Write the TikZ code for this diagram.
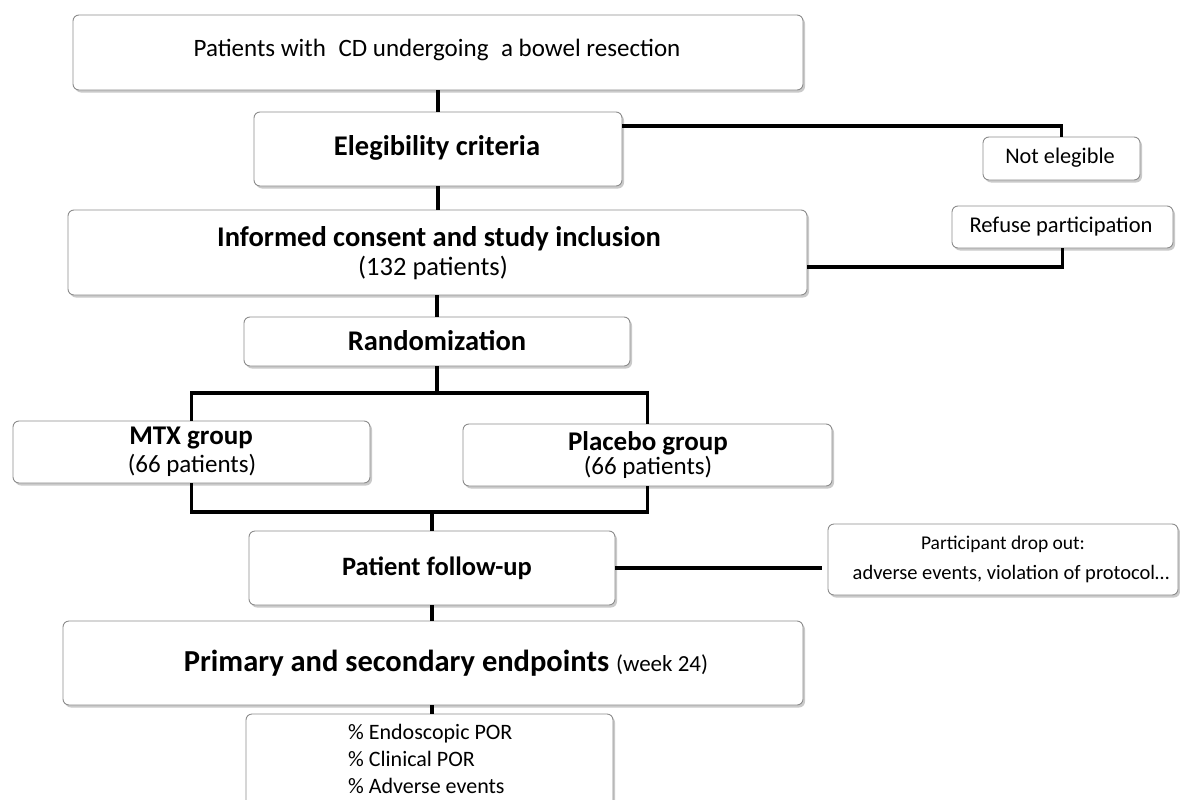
\documentclass[tikz,border=0pt]{standalone}
\usepackage{fontspec}
\setmainfont{Carlito}
\usetikzlibrary{shadows}
\tikzset{
  box/.style={draw=black!45, line width=0.9pt, rounded corners=6pt, fill=white, inner sep=0pt,
    drop shadow={shadow xshift=2pt, shadow yshift=-2.5pt, opacity=0.35, fill=black!60}},
  conn/.style={line width=3.6pt, black},
  fs/.style={font=\fontsize{#1}{#1}\selectfont},
  fsb/.style={font=\fontsize{#1}{#1}\selectfont\bfseries}
}
\begin{document}
\begin{tikzpicture}[x=1pt,y=-1pt]
\useasboundingbox (0,0) rectangle (1180,800);
\begin{scope}
\clip (0,0) rectangle (1180,800);
% boxes
\node[box, minimum width=730pt, minimum height=75pt] (top) at (438,52.5) {};
\node[box, minimum width=368pt, minimum height=74pt] (elig) at (438,149) {};
\node[box, minimum width=739pt, minimum height=85pt] (inf) at (437.5,252.5) {};
\node[box, minimum width=386pt, minimum height=49pt] (rand) at (437,341.5) {};
\node[box, minimum width=357pt, minimum height=62pt] (mtx) at (191.5,452) {};
\node[box, minimum width=369pt, minimum height=62pt] (plac) at (647.5,455) {};
\node[box, minimum width=366pt, minimum height=74pt] (fu) at (432,568) {};
\node[box, minimum width=350pt, minimum height=71pt] (drop) at (1003,559.5) {};
\node[box, minimum width=740pt, minimum height=84pt] (endp) at (433,663) {};
\node[box, minimum width=367pt, minimum height=101pt] (out) at (429.5,764.5) {};
\node[box, minimum width=157pt, minimum height=43pt] (ne) at (1061.5,158.5) {};
\node[box, minimum width=221pt, minimum height=42pt] (ref) at (1062.5,227) {};
% texts
\node[fs=25] (ttop) at (437,50) {Patients with\; CD undergoing\; a bowel resection};
\node[fsb=28.5] (telig) at (437,148) {Elegibility criteria};
\node[fsb=28.5] (tinf1) at (439,239) {Informed consent and study inclusion};
\node[fs=26.5] (tinf2) at (433,268) {(132 patients)};
\node[fsb=28.5] (trand) at (437,341) {Randomization};
\node[fsb=27] (tmtx1) at (191,438) {MTX group};
\node[fs=25] (tmtx2) at (192,465) {(66 patients)};
\node[fsb=27] (tpl1) at (648,443) {Placebo group};
\node[fs=25] (tpl2) at (648,467) {(66 patients)};
\node[fsb=26.5] (tfu) at (437,568) {Patient follow-up};
\node[fs=19.5] (tdr1) at (1003,544) {Participant drop out:};
\node[fs=20.5] (tdr2) at (1011,574) {adverse events, violation of protocol\dots};
\node (tend) at (446,663) {\fontsize{30.5}{30.5}\selectfont\bfseries Primary and secondary endpoints \fontsize{23}{23}\selectfont\mdseries(week 24)};
\node[align=left, anchor=west, inner sep=0pt, font=\fontsize{22}{27}\selectfont] (tout) at (348,759) {\% Endoscopic POR\\\% Clinical POR\\\% Adverse events};
\node[fs=22.3] (tne) at (1060,158) {Not elegible};
\node[fs=22.5] (tref) at (1061,227) {Refuse participation};
% connectors
\draw[conn] (top.south) -- (top.south |- elig.north);
\draw[conn] (elig.south) -- (elig.south |- inf.north);
\draw[conn] (rand.north) -- (rand.north |- inf.south);
\draw[conn] ([yshift=23pt]elig.east) -| (ne.north);
\draw[conn] ([yshift=-14.5pt]inf.east) -| (ref.south);
\coordinate (sp) at (437,393);
\draw[conn] (rand.south) -- (sp);
\draw[conn] (mtx.north) |- (sp) -| (plac.north);
\coordinate (mg) at (432,512);
\draw[conn] (mtx.south) |- (mg) -| (plac.south);
\draw[conn] (mg) -- (fu.north);
\draw[conn] (fu.east) -- ([xshift=-6pt]fu.east -| drop.west);
\draw[conn] (fu.south) -- (fu.south |- endp.north);
\draw[conn] (out.north -| fu.south) -- (fu.south |- endp.south);
\end{scope}
\end{tikzpicture}
\end{document}
